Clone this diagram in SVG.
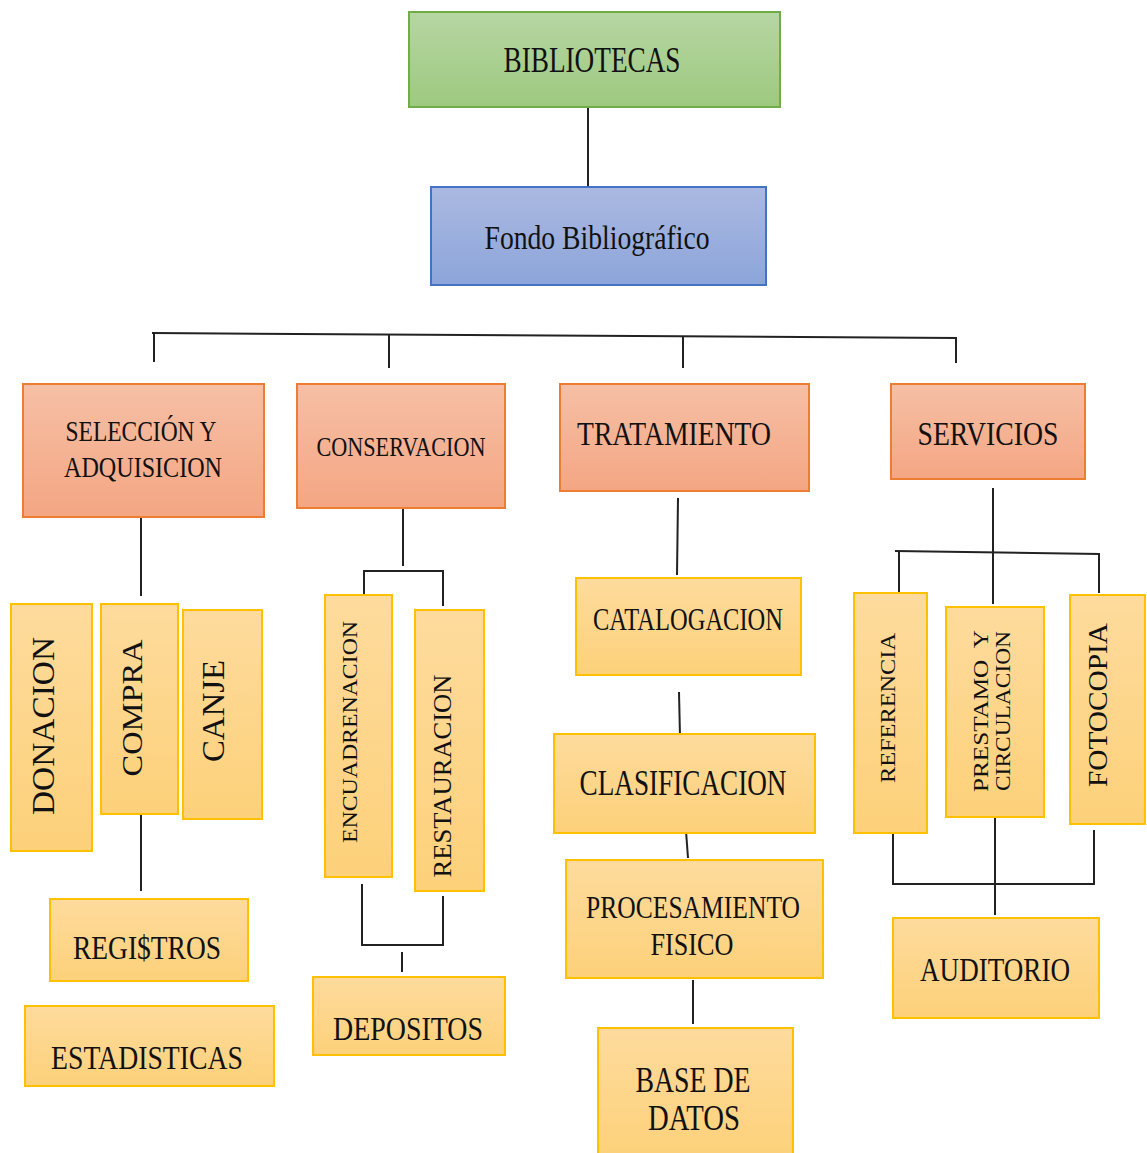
<svg xmlns="http://www.w3.org/2000/svg" width="1147" height="1153" viewBox="0 0 1147 1153">
<defs>
<linearGradient id="gGreen" x1="0" y1="0" x2="0" y2="1"><stop offset="0" stop-color="#b7d6a3"/><stop offset="1" stop-color="#9dc97f"/></linearGradient>
<linearGradient id="gBlue" x1="0" y1="0" x2="0" y2="1"><stop offset="0" stop-color="#abb9e1"/><stop offset="1" stop-color="#8ca5da"/></linearGradient>
<linearGradient id="gOrange" x1="0" y1="0" x2="0" y2="1"><stop offset="0" stop-color="#f6bfa5"/><stop offset="1" stop-color="#f4a683"/></linearGradient>
<linearGradient id="gYellow" x1="0" y1="0" x2="0" y2="1"><stop offset="0" stop-color="#fedb9d"/><stop offset="1" stop-color="#fdd17a"/></linearGradient>
</defs>
<style>
.green{fill:url(#gGreen);stroke:#70ad47;stroke-width:2}
.blue{fill:url(#gBlue);stroke:#4472c4;stroke-width:2}
.orange{fill:url(#gOrange);stroke:#ed7d31;stroke-width:2}
.yellow{fill:url(#gYellow);stroke:#ffc000;stroke-width:2}
text{font-family:"Liberation Serif","Times New Roman",serif;fill:#111;text-anchor:middle}
.con line,.con polyline{stroke:#222;stroke-width:2;fill:none}
</style>
<rect width="1147" height="1153" fill="#ffffff"/>

<g id="connectors" class="con">
<line x1="588" y1="107" x2="588" y2="187"/>
<line x1="152" y1="333" x2="957" y2="338"/>
<line x1="154" y1="333" x2="154" y2="362"/>
<line x1="389" y1="335" x2="389" y2="368"/>
<line x1="683" y1="337" x2="683" y2="368"/>
<line x1="956" y1="338" x2="956" y2="363"/>
<line x1="141" y1="517" x2="141" y2="596"/>
<line x1="141" y1="813" x2="141" y2="891"/>
<line x1="403" y1="508" x2="403" y2="566"/>
<polyline points="364,595 364,571 443,571 443,606"/>
<polyline points="362,884 362,945 443,945 443,896"/>
<line x1="402" y1="952" x2="402" y2="972"/>
<line x1="678" y1="498" x2="677" y2="575"/>
<line x1="679" y1="692" x2="680" y2="737"/>
<line x1="686" y1="831" x2="688" y2="858"/>
<line x1="693" y1="980" x2="693" y2="1024"/>
<line x1="993" y1="488" x2="993" y2="604"/>
<line x1="895" y1="551" x2="1100" y2="554"/>
<line x1="899" y1="552" x2="899" y2="593"/>
<line x1="1099" y1="554" x2="1099" y2="593"/>
<polyline points="893,833 893,884 1094,884 1094,830"/>
<line x1="995" y1="816" x2="995" y2="915"/>
</g>

<g id="n-bibliotecas"><rect class="green" x="409" y="12" width="371" height="95"/><text x="592" y="72" font-size="36" textLength="177" lengthAdjust="spacingAndGlyphs">BIBLIOTECAS</text></g>
<g id="n-fondo"><rect class="blue" x="431" y="187" width="335" height="98"/><text x="597" y="249" font-size="34" textLength="225" lengthAdjust="spacingAndGlyphs">Fondo Bibliográfico</text></g>

<g id="n-seleccion"><rect class="orange" x="23" y="384" width="241" height="133"/><text x="141" y="441" font-size="30" textLength="151" lengthAdjust="spacingAndGlyphs">SELECCIÓN Y</text><text x="143" y="477" font-size="30" textLength="158" lengthAdjust="spacingAndGlyphs">ADQUISICION</text></g>
<g id="n-conservacion"><rect class="orange" x="297" y="384" width="208" height="124"/><text x="401" y="456" font-size="28" textLength="169" lengthAdjust="spacingAndGlyphs">CONSERVACION</text></g>
<g id="n-tratamiento"><rect class="orange" x="560" y="384" width="249" height="107"/><text x="674" y="445" font-size="34" textLength="194" lengthAdjust="spacingAndGlyphs">TRATAMIENTO</text></g>
<g id="n-servicios"><rect class="orange" x="891" y="384" width="194" height="95"/><text x="988" y="445" font-size="34" textLength="141" lengthAdjust="spacingAndGlyphs">SERVICIOS</text></g>

<g id="n-donacion"><rect class="yellow" x="11" y="604" width="81" height="247"/><text transform="translate(54,726) rotate(-90)" font-size="32" textLength="178" lengthAdjust="spacingAndGlyphs">DONACION</text></g>
<g id="n-compra"><rect class="yellow" x="101" y="604" width="77" height="210"/><text transform="translate(142,708) rotate(-90)" font-size="30" textLength="137" lengthAdjust="spacingAndGlyphs">COMPRA</text></g>
<g id="n-canje"><rect class="yellow" x="183" y="610" width="79" height="209"/><text transform="translate(224,711) rotate(-90)" font-size="32" textLength="102" lengthAdjust="spacingAndGlyphs">CANJE</text></g>
<g id="n-registros"><rect class="yellow" x="50" y="899" width="198" height="82"/><text x="147" y="959" font-size="34" textLength="148" lengthAdjust="spacingAndGlyphs">REGI$TROS</text></g>
<g id="n-estadisticas"><rect class="yellow" x="25" y="1006" width="249" height="80"/><text x="147" y="1069" font-size="34" textLength="192" lengthAdjust="spacingAndGlyphs">ESTADISTICAS</text></g>

<g id="n-encuadrenacion"><rect class="yellow" x="325" y="595" width="67" height="282"/><text transform="translate(357,732) rotate(-90)" font-size="21" textLength="222" lengthAdjust="spacingAndGlyphs">ENCUADRENACION</text></g>
<g id="n-restauracion"><rect class="yellow" x="415" y="610" width="69" height="281"/><text transform="translate(451,776) rotate(-90)" font-size="25" textLength="203" lengthAdjust="spacingAndGlyphs">RESTAURACION</text></g>
<g id="n-depositos"><rect class="yellow" x="313" y="977" width="192" height="78"/><text x="408" y="1040" font-size="34" textLength="150" lengthAdjust="spacingAndGlyphs">DEPOSITOS</text></g>

<g id="n-catalogacion"><rect class="yellow" x="576" y="578" width="225" height="97"/><text x="688" y="630" font-size="32" textLength="190" lengthAdjust="spacingAndGlyphs">CATALOGACION</text></g>
<g id="n-clasificacion"><rect class="yellow" x="554" y="734" width="261" height="99"/><text x="683" y="795" font-size="35" textLength="207" lengthAdjust="spacingAndGlyphs">CLASIFICACION</text></g>
<g id="n-procesamiento"><rect class="yellow" x="566" y="860" width="257" height="118"/><text x="693" y="918" font-size="31" textLength="214" lengthAdjust="spacingAndGlyphs">PROCESAMIENTO</text><text x="692" y="955" font-size="31" textLength="83" lengthAdjust="spacingAndGlyphs">FISICO</text></g>
<g id="n-basedatos"><rect class="yellow" x="598" y="1028" width="195" height="130"/><text x="693" y="1092" font-size="35" textLength="115" lengthAdjust="spacingAndGlyphs">BASE DE</text><text x="694" y="1130" font-size="35" textLength="92" lengthAdjust="spacingAndGlyphs">DATOS</text></g>

<g id="n-referencia"><rect class="yellow" x="854" y="593" width="73" height="240"/><text transform="translate(895,708) rotate(-90)" font-size="20" textLength="150" lengthAdjust="spacingAndGlyphs">REFERENCIA</text></g>
<g id="n-prestamo"><rect class="yellow" x="946" y="607" width="98" height="210"/><text transform="translate(988,711) rotate(-90)" font-size="20" textLength="162" lengthAdjust="spacingAndGlyphs" xml:space="preserve">PRESTAMO  Y</text><text transform="translate(1010,711) rotate(-90)" font-size="20" textLength="160" lengthAdjust="spacingAndGlyphs">CIRCULACION</text></g>
<g id="n-fotocopia"><rect class="yellow" x="1070" y="595" width="75" height="229"/><text transform="translate(1107,705) rotate(-90)" font-size="28" textLength="164" lengthAdjust="spacingAndGlyphs">FOTOCOPIA</text></g>
<g id="n-auditorio"><rect class="yellow" x="893" y="918" width="206" height="100"/><text x="995" y="981" font-size="34" textLength="150" lengthAdjust="spacingAndGlyphs">AUDITORIO</text></g>
</svg>
